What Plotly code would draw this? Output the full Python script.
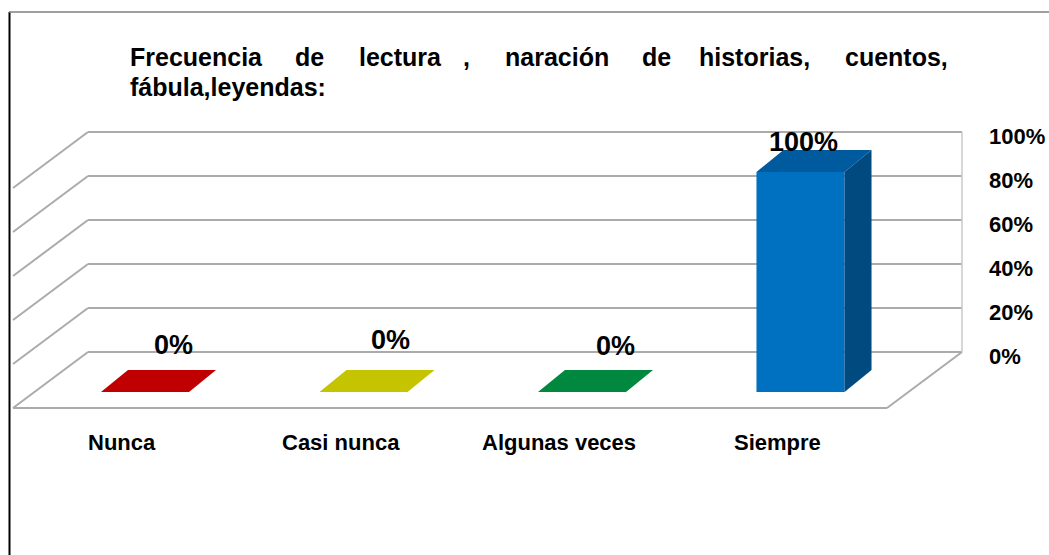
import plotly.graph_objects as go

# datos del gráfico
categorias = ['Nunca', 'Casi nunca', 'Algunas veces', 'Siempre']
porcentajes = [0, 0, 0, 100]
ticks_y = [0, 20, 40, 60, 80, 100]
tick_labels = ['0%', '20%', '40%', '60%', '80%', '100%']
titulo_l1 = ['Frecuencia', 'de', 'lectura', ',', 'naración', 'de', 'historias,', 'cuentos,']
titulo_l2 = 'fábula,leyendas:'

# colores de cada cara (frente, tapa, lado)
frente = ['#C00000', '#C4C400', '#00883E', '#0070C0']
tapa = ['#C00000', '#C4C400', '#00883E', '#005A9E']
lado = ['#900000', '#939300', '#00662E', '#004A80']

W, H = 1049, 555
PX_X, PX_Y = 218.5, 2.2          # px por categoria / px por 1 %
X0 = -145 / PX_X
Y1 = 392 / PX_Y
ANCHO = 0.403
PROF = (27 / PX_X, 22 / PX_Y)            # profundidad de la barra
FONDO = (52.25 / PX_X, 40 / PX_Y)        # pared del fondo
BORDE = (-22.75 / PX_X, -16 / PX_Y)      # borde delantero del piso

FONT_N = 'Liberation Sans Narrow, Arial Narrow, Liberation Sans, Arial'
FONT_B = 'Liberation Sans, Arial'
GRIS = '#ABABAB'

n = len(categorias)
idx = list(range(n))

fig = go.Figure()
fig.add_trace(go.Bar(x=idx, y=porcentajes, width=ANCHO,
                     marker=dict(color=frente, line_width=0),
                     hoverinfo='skip'))

dx, dy = PROF
for i, v in enumerate(porcentajes):
    xl, xr = i - ANCHO / 2, i + ANCHO / 2
    fig.add_trace(go.Scatter(x=[xl, xr, xr + dx, xl + dx, xl],
                             y=[v, v, v + dy, v + dy, v],
                             mode='lines', fill='toself', fillcolor=tapa[i],
                             line=dict(width=0), hoverinfo='skip'))
    if v > 0:
        fig.add_trace(go.Scatter(x=[xr, xr + dx, xr + dx, xr, xr],
                                 y=[0, dy, v + dy, v, 0],
                                 mode='lines', fill='toself', fillcolor=lado[i],
                                 line=dict(width=0), hoverinfo='skip'))

# paredes y piso
bx, by = FONDO
fx, fy = BORDE
izq, der = -0.5, n - 0.5
shapes = []
linea = dict(color=GRIS, width=2)
for v in ticks_y:
    shapes.append(dict(type='line', xref='x', yref='y', x0=izq + bx, y0=v + by,
                       x1=der + bx, y1=v + by, line=linea, layer='below'))
    shapes.append(dict(type='line', xref='x', yref='y', x0=izq + bx, y0=v + by,
                       x1=izq + fx, y1=v + fy, line=linea, layer='below'))
shapes.append(dict(type='line', xref='x', yref='y', x0=izq + fx, y0=fy,
                   x1=der + fx, y1=fy, line=linea, layer='below'))
shapes.append(dict(type='line', xref='x', yref='y', x0=der + bx, y0=by,
                   x1=der + fx, y1=fy, line=linea, layer='below'))
shapes.append(dict(type='line', xref='x', yref='y', x0=der + bx, y0=by,
                   x1=der + bx, y1=max(ticks_y) + by,
                   line=dict(color='#C8C8C8', width=1.5), layer='below'))

# marco
shapes.append(dict(type='line', xref='paper', yref='paper', x0=9.5 / W, y0=0,
                   x1=9.5 / W, y1=1 - 12 / H, line=dict(color='black', width=2)))
shapes.append(dict(type='line', xref='paper', yref='paper', x0=9 / W, y0=1 - 12 / H,
                   x1=1, y1=1 - 12 / H, line=dict(color='#808080', width=1.5)))

anns = []
for v, t in zip(ticks_y, tick_labels):
    anns.append(dict(x=987 / W, xref='paper', y=v + by, yref='y', text=t,
                     xanchor='left', yanchor='middle', yshift=-4, showarrow=False,
                     font=dict(family=FONT_N, size=22, color='black')))
for i, c in enumerate(categorias):
    anns.append(dict(x=i + fx, y=fy, text=c, xanchor='center', yanchor='middle',
                     yshift=-34, showarrow=False,
                     font=dict(family=FONT_N, size=22, color='black')))
# ajuste de las etiquetas de datos (px)
lab_dx = [15, 13, 20, -11]
lab_dy = [36, 41, 35, 19]
for i, v in enumerate(porcentajes):
    anns.append(dict(x=i + dx / 2, y=v + dy / 2, text=f'{v}%', xshift=lab_dx[i],
                     yshift=lab_dy[i], showarrow=False,
                     font=dict(family=FONT_B, size=27, color='black')))
# titulo justificado
pos_l1 = [128, 293, 357, 461, 503, 640, 697, 843]
for w, px in zip(titulo_l1, pos_l1):
    anns.append(dict(x=px / W, xref='paper', y=1 - 57 / H, yref='paper', text=w,
                     xanchor='left', yanchor='middle', showarrow=False,
                     font=dict(family=FONT_B, size=25, color='black')))
anns.append(dict(x=128 / W, xref='paper', y=1 - 87 / H, yref='paper', text=titulo_l2,
                 xanchor='left', yanchor='middle', showarrow=False,
                 font=dict(family=FONT_B, size=25, color='black')))
for a in anns:
    a['font']['weight'] = 'bold'

fig.update_layout(width=W, height=H, margin=dict(l=0, r=0, t=0, b=0),
                  paper_bgcolor='white', plot_bgcolor='white', showlegend=False,
                  shapes=shapes, annotations=anns,
                  xaxis=dict(range=[X0, X0 + W / PX_X], visible=False, fixedrange=True),
                  yaxis=dict(range=[Y1 - H / PX_Y, Y1], visible=False, fixedrange=True))

fig.write_html("out.html", config={'displayModeBar': False},
               post_script="document.body.style.margin='0';")
